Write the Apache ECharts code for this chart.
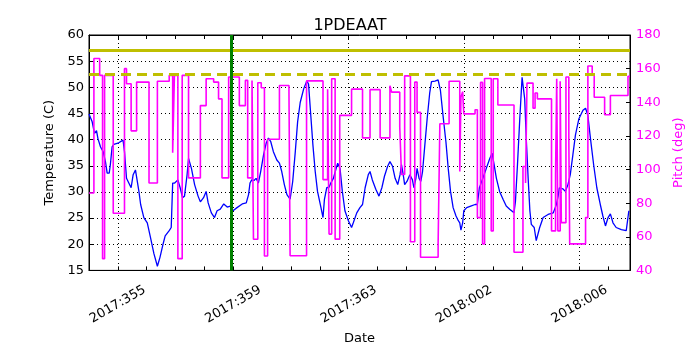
<!DOCTYPE html>
<html>
<head>
<meta charset="utf-8">
<script src="https://cdn.jsdelivr.net/npm/echarts@6/dist/echarts.min.js"></script>
<style>
  html, body { margin: 0; padding: 0; background: #fff; }
  #chart { width: 700px; height: 350px; }
</style>
</head>
<body>
<div id="chart"></div>
<script>
// day of year, counted on from 2017 (2018:001 == 366)
const tempDays = [
  354.00, 354.11, 354.19, 354.26, 354.31, 354.40, 354.49, 354.57, 354.63, 354.70,
  354.74, 354.80, 354.86, 355.03, 355.18, 355.23, 355.30, 355.38, 355.46, 355.53,
  355.61, 355.67, 355.73, 355.79, 355.90, 356.02, 356.13, 356.25, 356.37, 356.46,
  356.57, 356.64, 356.78, 356.85, 356.90, 356.97, 357.03, 357.08, 357.16, 357.24,
  357.31, 357.40, 357.45, 357.55, 357.66, 357.78, 357.86, 357.97, 358.06, 358.13,
  358.24, 358.35, 358.44, 358.55, 358.67, 358.79, 358.90, 358.99, 359.13, 359.31,
  359.45, 359.53, 359.58, 359.64, 359.72, 359.79, 359.87, 359.95, 360.05, 360.14,
  360.22, 360.30, 360.39, 360.51, 360.60, 360.68, 360.77, 360.86, 360.97, 361.06,
  361.15, 361.23, 361.32, 361.44, 361.55, 361.61, 361.67, 361.76, 361.84, 361.92,
  362.04, 362.11, 362.16, 362.24, 362.32, 362.38, 362.47, 362.55, 362.62, 362.70,
  362.78, 362.87, 362.99, 363.10, 363.16, 363.28, 363.39, 363.48, 363.57, 363.68,
  363.74, 363.82, 363.94, 364.05, 364.15, 364.24, 364.35, 364.43, 364.52, 364.61,
  364.70, 364.78, 364.83, 364.89, 364.94, 365.02, 365.12, 365.21, 365.26, 365.33,
  365.37, 365.44, 365.50, 365.56, 365.64, 365.72, 365.81, 365.87, 365.99, 366.10,
  366.18, 366.27, 366.37, 366.45, 366.53, 366.62, 366.72, 366.80, 366.85, 366.89,
  366.95, 366.99, 367.09, 367.23, 367.38, 367.46, 367.53, 367.57, 367.65, 367.77,
  367.89, 367.97, 368.04, 368.12, 368.23, 368.35, 368.46, 368.58, 368.73, 368.78,
  368.85, 368.93, 369.01, 369.05, 369.10, 369.16, 369.22, 369.28, 369.33, 369.43,
  369.50, 369.62, 369.74, 369.91, 370.09, 370.20, 370.26, 370.30, 370.42, 370.51,
  370.60, 370.68, 370.77, 370.86, 370.98, 371.12, 371.21, 371.29, 371.38, 371.49,
  371.60, 371.72, 371.81, 371.90, 371.99, 372.07, 372.16, 372.27, 372.45, 372.62,
  372.68, 372.71
]
const tempValues = [
  44.9, 43.4, 41.2, 41.7, 40.2, 38.6, 37.7, 35.8, 33.6, 33.6,
  35.2, 38.6, 39.1, 39.4, 39.9, 37.7, 32.6, 31.7, 30.8, 33.3,
  34.2, 33.9, 30.1, 27.6, 25.1, 24.1, 21.3, 18.2, 15.8, 17.5,
  20.1, 21.6, 22.6, 23.2, 31.7, 31.7, 31.4, 32.3, 30.8, 28.9,
  29.2, 33.3, 36.4, 34.5, 31.4, 29.2, 28.1, 28.9, 30.1, 27.9,
  26.0, 25.1, 26.4, 26.7, 27.7, 27.1, 27.3, 26.4, 27.0, 27.7,
  27.9, 29.5, 31.7, 32.3, 32.2, 32.6, 31.7, 33.9, 37.1, 39.3,
  40.3, 39.6, 37.7, 36.1, 35.5, 33.9, 31.4, 29.5, 28.6, 32.0,
  37.7, 43.4, 47.1, 49.7, 51.2, 50.6, 45.9, 39.0, 33.9, 30.1,
  27.0, 25.1, 28.6, 30.8, 30.9, 31.7, 32.6, 34.2, 35.5, 34.5,
  30.1, 26.4, 24.5, 23.2, 24.1, 26.0, 27.0, 27.6, 30.8, 33.3,
  33.9, 32.3, 30.5, 29.2, 30.8, 33.0, 34.9, 35.8, 34.9, 32.6,
  31.4, 33.3, 35.2, 33.3, 31.4, 32.0, 33.3, 32.3, 30.8, 32.6,
  34.5, 32.6, 32.0, 33.9, 39.0, 44.0, 49.0, 51.1, 51.2, 51.4,
  49.4, 44.6, 39.6, 34.5, 30.1, 27.0, 25.4, 24.5, 24.1, 22.7,
  24.1, 26.4, 27.0, 27.3, 27.6, 27.6, 30.8, 31.4, 32.6, 34.5,
  36.4, 37.4, 35.2, 32.6, 30.1, 28.6, 27.3, 26.7, 26.0, 28.2,
  35.2, 44.0, 51.9, 52.2, 47.8, 39.6, 32.6, 26.4, 23.8, 23.2,
  20.7, 23.2, 25.1, 25.7, 26.0, 27.6, 29.2, 30.8, 30.6, 30.1,
  31.4, 33.3, 37.1, 40.9, 44.0, 45.6, 46.0, 44.6, 40.2, 35.2,
  30.8, 27.6, 25.4, 23.5, 25.1, 25.8, 24.1, 23.2, 22.8, 22.6,
  22.4, 26.4
]

// pitch changes: new value from that day on
const pitchDays = [
  354.00, 354.17, 354.37, 354.47, 354.54, 354.84, 355.23, 355.30, 355.46, 355.65,
  356.08, 356.37, 356.78, 356.90, 356.96, 357.08, 357.23, 357.45, 357.86, 358.06,
  358.32, 358.49, 358.61, 358.84, 359.21, 359.42, 359.50, 359.65, 359.70, 359.85,
  359.97, 360.08, 360.19, 360.60, 360.93, 360.97, 361.54, 362.11, 362.27, 362.32,
  362.41, 362.53, 362.69, 363.10, 363.48, 363.74, 364.09, 364.43, 364.49, 364.77,
  364.83, 364.94, 365.14, 365.29, 365.37, 365.49, 366.10, 366.16, 366.48, 366.85,
  366.89, 366.95, 366.99, 367.38, 367.46, 367.57, 367.64, 367.71, 367.94, 368.01,
  368.17, 368.73, 369.04, 369.13, 369.18, 369.39, 369.46, 369.54, 370.03, 370.17,
  370.21, 370.25, 370.33, 370.37, 370.53, 370.63, 370.66, 371.21, 371.29, 371.44,
  371.51, 371.87, 372.07, 372.68, 372.75
]
const pitchValues = [
  86, 166, 156, 47, 156, 74, 160, 151, 123, 152,
  92, 152.5, 156, 110, 156, 47, 156, 95, 138, 154,
  152, 142, 95, 155, 138, 153, 95, 153, 58.5, 151.6,
  148.6, 48.6, 118, 150, 147, 48.7, 152.7, 94, 147.8, 61.6,
  154, 58.6, 132.2, 147.8, 118.8, 147.5, 118.8, 149.8, 146, 125.3,
  97, 155.7, 57, 152, 134, 47.8, 55.8, 127.2, 152.5, 98.8,
  143, 146.3, 133.1, 135.5, 71.4, 151.8, 55.8, 154.1, 63.5, 154,
  138.4, 50.8, 101.8, 92, 151.4, 136.5, 145.5, 142, 63.5, 97.2,
  154, 63.5, 152.5, 68.4, 155, 117.5, 55.8, 71.4, 161.6, 156.7,
  143, 132.6, 144, 155.4, 155.4
]

const majorTicks = [355, 359, 363, 367, 371]
const tempLimits = [57, 52.5]
const markerDay = 358.92

const dayLabel = v => {
  const year = v > 365 ? 2018 : 2017
  const d = v > 365 ? v - 365 : v
  return year + ':' + String(d).padStart(3, '0')
}

const font = 'DejaVu Sans'
const dotted = ['transparent', '#000', 'transparent', 'transparent']

const chart = echarts.init(document.getElementById('chart'), null, { renderer: 'canvas' })

const xBase = {
  type: 'value',
  min: 354,
  max: 372.75,
  interval: 1,
  axisLine: { lineStyle: { color: '#000', width: 1 } },
  axisTick: { inside: true, length: 4, lineStyle: { color: '#000' } }
}

const option = {
  backgroundColor: '#fff',
  animation: false,
  textStyle: { fontFamily: font },
  title: {
    text: '1PDEAAT',
    left: 'center',
    top: 13,
    textStyle: { fontFamily: font, fontSize: 16, fontWeight: 'normal', color: '#000' }
  },
  grid: {
    left: 89, right: 70, top: 35, bottom: 77,
    show: true, borderColor: '#000', borderWidth: 1
  },
  xAxis: [
    Object.assign({}, xBase, {
      position: 'bottom',
      name: 'Date',
      nameLocation: 'middle',
      nameGap: 55,
      nameTextStyle: { fontFamily: font, fontSize: 13, color: '#000' },
      axisLabel: {
        rotate: 30,
        align: 'center',
        verticalAlign: 'middle',
        margin: 34,
        fontFamily: font,
        fontSize: 13,
        color: '#000',
        formatter: v => majorTicks.includes(v) ? dayLabel(v) : ''
      },
      splitLine: { show: true, lineStyle: { color: dotted, type: [1, 3], width: 1 } }
    }),
    Object.assign({}, xBase, {
      position: 'top',
      axisLabel: { show: false },
      splitLine: { show: false }
    })
  ],
  yAxis: [
    {
      type: 'value',
      min: 15, max: 60, interval: 5,
      position: 'left',
      name: 'Temperature (C)',
      nameLocation: 'middle',
      nameRotate: 90,
      nameGap: 31,
      nameTextStyle: { fontFamily: font, fontSize: 13, color: '#000' },
      axisLine: { show: true, lineStyle: { color: '#000' } },
      axisTick: { show: true, inside: true, length: 4, lineStyle: { color: '#000' } },
      axisLabel: { fontFamily: font, fontSize: 13, color: '#000', margin: 5 },
      splitLine: { show: true, lineStyle: { color: '#000', type: [1, 3], width: 1 } }
    },
    {
      type: 'value',
      min: 40, max: 180, interval: 20,
      position: 'right',
      name: 'Pitch (deg)',
      nameLocation: 'middle',
      nameRotate: 90,
      nameGap: 36,
      nameTextStyle: { fontFamily: font, fontSize: 13, color: '#ff00ff' },
      axisLine: { show: true, lineStyle: { color: '#000' } },
      axisTick: { show: true, inside: true, length: 4, lineStyle: { color: '#000' } },
      axisLabel: { fontFamily: font, fontSize: 13, color: '#ff00ff', margin: 6 },
      splitLine: { show: false }
    }
  ],
  series: [
    {
      name: 'temperature',
      type: 'line',
      xAxisIndex: 0,
      yAxisIndex: 0,
      data: tempDays.map((d, i) => [d, tempValues[i]]),
      showSymbol: false,
      lineStyle: { color: '#0000ff', width: 1.3 },
      z: 2,
      markLine: {
        silent: true,
        symbol: 'none',
        label: { show: false },
        data: [
          { yAxis: tempLimits[0], lineStyle: { color: '#bfbf00', width: 3, type: 'solid' } },
          { yAxis: tempLimits[1], lineStyle: { color: '#bfbf00', width: 3, type: [10, 6] } }
        ]
      }
    },
    {
      name: 'pitch',
      type: 'line',
      xAxisIndex: 0,
      yAxisIndex: 1,
      step: 'end',
      data: pitchDays.map((d, i) => [d, pitchValues[i]]),
      showSymbol: false,
      lineStyle: { color: '#ff00ff', width: 1.6 },
      z: 3
    },
    {
      name: 'marker',
      type: 'line',
      xAxisIndex: 0,
      yAxisIndex: 0,
      data: [],
      z: 5,
      markLine: {
        silent: true,
        symbol: 'none',
        label: { show: false },
        data: [{ xAxis: markerDay }],
        lineStyle: { color: '#008000', width: 3, type: 'solid' }
      }
    }
  ]
}

chart.setOption(option)
</script>
</body>
</html>
